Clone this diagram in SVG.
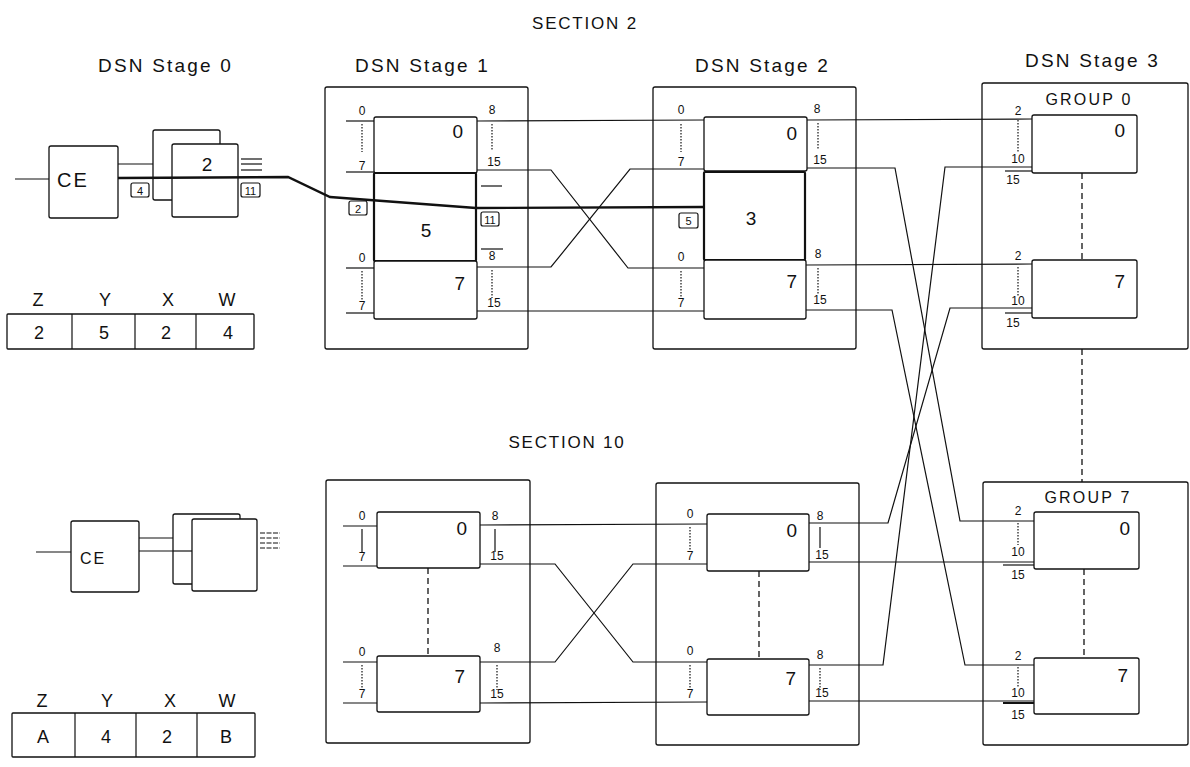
<svg xmlns="http://www.w3.org/2000/svg" width="1190" height="767" viewBox="0 0 1190 767">
<style>
.b{fill:#fff;stroke:#111;stroke-width:1.3}
.bt{fill:#fff;stroke:#111;stroke-width:2.2}
.fr{fill:none;stroke:#111;stroke-width:1.3}
.l{fill:none;stroke:#111;stroke-width:1.2}
.th{fill:none;stroke:#111;stroke-width:2.4}
.dot{fill:none;stroke:#111;stroke-width:1.2;stroke-dasharray:1.5 1.5}
.dash{fill:none;stroke:#111;stroke-width:1.3;stroke-dasharray:6 4}
.sd{fill:none;stroke:#111;stroke-width:1.1;stroke-dasharray:5 1.5}
text{font-family:"Liberation Sans",Arial,sans-serif;fill:#111}
.h{font-size:19px;letter-spacing:2.2px}
.sec{font-size:17px;letter-spacing:1.8px}
.g{font-size:16px;letter-spacing:2.2px}
.n{font-size:19px}
.p{font-size:12px;text-anchor:middle}
.s{font-size:11px;text-anchor:middle}
.t{font-size:18px;text-anchor:middle}
.e{text-anchor:end}
.m{text-anchor:middle}
</style>

<!-- headings -->
<g id="headings">
<text x="585" y="29" class="sec m">SECTION 2</text>
<text x="567" y="448" class="sec m">SECTION 10</text>
<text x="98" y="72" class="h">DSN Stage 0</text>
<text x="355" y="72" class="h">DSN Stage 1</text>
<text x="695" y="72" class="h">DSN Stage 2</text>
<text x="1025" y="67" class="h">DSN Stage 3</text>
</g>

<!-- stage frames -->
<g id="s2-stage1-frame"><rect class="fr" x="325" y="87" width="203" height="262" rx="2"/></g>
<g id="s2-stage2-frame"><rect class="fr" x="653" y="87" width="203" height="262" rx="2"/></g>
<g id="group0-frame"><rect class="fr" x="982" y="83" width="206" height="266" rx="2"/><text x="1089" y="105" class="g m">GROUP 0</text></g>
<g id="s10-stage1-frame"><rect class="fr" x="326" y="480" width="204" height="263" rx="2"/></g>
<g id="s10-stage2-frame"><rect class="fr" x="656" y="483" width="203" height="262" rx="2"/></g>
<g id="group7-frame"><rect class="fr" x="983" y="482" width="205" height="263" rx="2"/><text x="1088" y="503" class="g m">GROUP 7</text></g>

<!-- connectors -->
<g id="connectors">
<line class="l" x1="15" y1="179" x2="49" y2="179"/>
<line class="l" x1="118" y1="164" x2="153" y2="164"/>
<line class="l" x1="477" y1="121" x2="704" y2="120"/>
<polyline class="l" points="477,170 551,170 628,268 704,268"/>
<polyline class="l" points="477,267 551,267 630,169 704,169"/>
<line class="l" x1="477" y1="311" x2="704" y2="311"/>
<line class="l" x1="807" y1="120" x2="1032" y2="119"/>
<polyline class="l" points="807,168 895,168 960,521 1034,521"/>
<line class="l" x1="806" y1="265" x2="1032" y2="264"/>
<polyline class="l" points="806,310 892,310 965,665 1034,665"/>
<line class="l" x1="36" y1="552" x2="71" y2="552"/>
<line class="l" x1="139" y1="538" x2="173" y2="538"/>
<line class="l" x1="139" y1="551" x2="192" y2="551"/>
<line class="l" x1="480" y1="525" x2="707" y2="524"/>
<polyline class="l" points="480,564 555,564 633,662 707,662"/>
<polyline class="l" points="480,662 555,662 633,564 707,564"/>
<line class="l" x1="480" y1="703" x2="707" y2="702"/>
<polyline class="l" points="809,523 888,523 950,308 1032,308"/>
<line class="l" x1="809" y1="562" x2="1034" y2="562"/>
<polyline class="l" points="809,665 883,665 945,167 1032,167"/>
<line class="l" x1="809" y1="701" x2="1034" y2="701"/>
<line class="dash" x1="1082" y1="349" x2="1082" y2="482"/>
</g>

<!-- section 2 stage 0 -->
<g id="s2-ce"><rect class="b" x="49" y="146" width="69" height="72" rx="2"/><text x="57" y="187" style="font-size:20px;letter-spacing:2px">CE</text></g>
<g id="s2-stage0">
<rect class="b" x="153" y="130" width="67" height="70" rx="2"/>
<rect class="b" x="172" y="144" width="66" height="73" rx="2"/>
<text x="207" y="171" class="n m">2</text>
<line class="l" x1="241" y1="159" x2="262" y2="159"/>
<line class="l" x1="241" y1="164" x2="262" y2="164"/>
<line class="l" x1="241" y1="170" x2="262" y2="170"/>
<rect class="l" x="131" y="183" width="18" height="14" rx="2"/><text x="140" y="194.5" class="s">4</text>
<rect class="l" x="241" y="183" width="19" height="14" rx="2"/><text x="250.5" y="194.5" class="s">11</text>
</g>

<!-- section 2 stage 1 -->
<g id="s2-st1-sw0">
<rect class="b" x="374" y="117" width="103" height="56" rx="2"/>
<text x="463" y="138" class="n e">0</text>
<line class="l" x1="346" y1="121" x2="374" y2="121"/>
<line class="l" x1="346" y1="172" x2="374" y2="172"/>
<text x="362" y="115" class="p">0</text><line class="dot" x1="362" y1="124" x2="362" y2="152"/><text x="362" y="170" class="p">7</text>
<text x="492" y="114" class="p">8</text><line class="dot" x1="492" y1="124" x2="492" y2="150"/><text x="494" y="166" class="p">15</text>
</g>
<g id="s2-st1-sw5">
<rect class="bt" x="374" y="173" width="102" height="88" rx="1"/>
<text x="426" y="237" class="n m">5</text>
<rect class="l" x="349" y="201" width="18" height="14" rx="2"/><text x="358" y="212.5" class="s">2</text>
<rect class="l" x="481" y="212" width="18" height="14" rx="2"/><text x="490" y="223.5" class="s">11</text>
<line class="l" x1="481" y1="186" x2="502" y2="186"/>
</g>
<g id="s2-st1-sw7">
<rect class="b" x="374" y="261" width="103" height="58" rx="2"/>
<text x="465" y="290" class="n e">7</text>
<line class="l" x1="346" y1="268" x2="374" y2="268"/>
<line class="l" x1="346" y1="313" x2="374" y2="313"/>
<text x="362" y="262" class="p">0</text><line class="dot" x1="362" y1="271" x2="362" y2="300"/><text x="362" y="310" class="p">7</text>
<line class="l" x1="481" y1="249" x2="503" y2="249"/>
<text x="492" y="260" class="p">8</text><line class="dot" x1="492" y1="270" x2="492" y2="298"/><text x="494" y="307" class="p">15</text>
</g>

<!-- section 2 stage 2 -->
<g id="s2-st2-sw0">
<rect class="b" x="704" y="117" width="103" height="54" rx="2"/>
<text x="797" y="140" class="n e">0</text>
<text x="681" y="114" class="p">0</text><line class="dot" x1="681" y1="124" x2="681" y2="152"/><text x="681" y="166" class="p">7</text>
<text x="817" y="113" class="p">8</text><line class="dot" x1="818" y1="123" x2="818" y2="150"/><text x="820" y="164" class="p">15</text>
</g>
<g id="s2-st2-sw3">
<rect class="bt" x="704" y="172" width="101" height="88" rx="1"/>
<text x="751" y="225" class="n m">3</text>
<rect class="l" x="679" y="213" width="19" height="15" rx="2"/><text x="688.5" y="225" class="s">5</text>
</g>
<g id="s2-st2-sw7">
<rect class="b" x="704" y="260" width="102" height="59" rx="2"/>
<text x="797" y="288" class="n e">7</text>
<text x="681" y="261" class="p">0</text><line class="dot" x1="681" y1="271" x2="681" y2="298"/><text x="681" y="307" class="p">7</text>
<text x="818" y="258" class="p">8</text><line class="dot" x1="818" y1="268" x2="818" y2="295"/><text x="820" y="304" class="p">15</text>
</g>

<!-- group 0 -->
<g id="g0-sw0">
<rect class="b" x="1032" y="115" width="105" height="58" rx="2"/>
<text x="1125" y="137" class="n e">0</text>
<text x="1018" y="115" class="p">2</text><line class="dot" x1="1018" y1="120" x2="1018" y2="152"/><text x="1018" y="163" class="p">10</text>
<line class="l" x1="1005" y1="171" x2="1032" y2="171"/><text x="1013" y="184" class="p">15</text>
<line class="dash" x1="1082" y1="173" x2="1082" y2="260"/>
</g>
<g id="g0-sw7">
<rect class="b" x="1032" y="260" width="105" height="58" rx="2"/>
<text x="1125" y="288" class="n e">7</text>
<text x="1018" y="260" class="p">2</text><line class="dot" x1="1018" y1="267" x2="1018" y2="296"/><text x="1018" y="305" class="p">10</text>
<line class="l" x1="1005" y1="313" x2="1032" y2="313"/><text x="1013" y="327" class="p">15</text>
</g>

<!-- table section 2 -->
<g id="s2-table">
<text x="38" y="306" class="t">Z</text><text x="105" y="306" class="t">Y</text><text x="168" y="306" class="t">X</text><text x="227" y="306" class="t">W</text>
<rect class="b" x="7" y="314" width="247" height="35" rx="1"/>
<line class="l" x1="72" y1="314" x2="72" y2="349"/><line class="l" x1="135" y1="314" x2="135" y2="349"/><line class="l" x1="196" y1="314" x2="196" y2="349"/>
<text x="39" y="339" class="t">2</text><text x="104" y="339" class="t">5</text><text x="166" y="339" class="t">2</text><text x="228" y="339" class="t">4</text>
</g>

<!-- section 10 stage 0 -->
<g id="s10-ce"><rect class="b" x="71" y="521" width="68" height="71" rx="2"/><text x="80" y="564" style="font-size:16px;letter-spacing:2px">CE</text></g>
<g id="s10-stage0">
<rect class="b" x="173" y="514" width="67" height="70" rx="2"/>
<rect class="b" x="192" y="519" width="65" height="72" rx="2"/>
<line class="sd" x1="260" y1="533" x2="280" y2="533"/>
<line class="sd" x1="260" y1="538" x2="280" y2="538"/>
<line class="sd" x1="260" y1="543" x2="280" y2="543"/>
<line class="sd" x1="260" y1="548" x2="280" y2="548"/>
<line class="l" x1="173" y1="551" x2="192" y2="551"/>
</g>

<!-- section 10 stage 1 -->
<g id="s10-st1-sw0">
<rect class="b" x="377" y="512" width="103" height="56" rx="2"/>
<text x="467" y="535" class="n e">0</text>
<line class="l" x1="343" y1="526" x2="377" y2="526"/>
<line class="l" x1="343" y1="566" x2="377" y2="566"/>
<text x="362" y="520" class="p">0</text><line class="l" x1="362" y1="529" x2="362" y2="552"/><text x="362" y="561" class="p">7</text>
<text x="495" y="520" class="p">8</text><line class="l" x1="495" y1="529" x2="495" y2="552"/><text x="497" y="560" class="p">15</text>
<line class="dash" x1="428" y1="568" x2="428" y2="656"/>
</g>
<g id="s10-st1-sw7">
<rect class="b" x="377" y="656" width="103" height="56" rx="2"/>
<text x="465" y="683" class="n e">7</text>
<line class="l" x1="343" y1="662" x2="377" y2="662"/>
<line class="l" x1="343" y1="703" x2="377" y2="703"/>
<text x="362" y="656" class="p">0</text><line class="dot" x1="362" y1="665" x2="362" y2="690"/><text x="362" y="698" class="p">7</text>
<text x="497" y="652" class="p">8</text><line class="dot" x1="497" y1="665" x2="497" y2="690"/><text x="497" y="698" class="p">15</text>
</g>

<!-- section 10 stage 2 -->
<g id="s10-st2-sw0">
<rect class="b" x="707" y="514" width="102" height="57" rx="2"/>
<text x="797" y="537" class="n e">0</text>
<text x="690" y="518" class="p">0</text><line class="dot" x1="690" y1="527" x2="690" y2="550"/><text x="690" y="560" class="p">7</text>
<text x="820" y="520" class="p">8</text><line class="l" x1="820" y1="527" x2="820" y2="548"/><text x="822" y="559" class="p">15</text>
<line class="dash" x1="759" y1="571" x2="759" y2="659"/>
</g>
<g id="s10-st2-sw7">
<rect class="b" x="707" y="659" width="102" height="56" rx="2"/>
<text x="796" y="685" class="n e">7</text>
<text x="690" y="655" class="p">0</text><line class="dot" x1="690" y1="665" x2="690" y2="690"/><text x="690" y="698" class="p">7</text>
<text x="820" y="659" class="p">8</text><line class="dot" x1="820" y1="668" x2="820" y2="690"/><text x="822" y="697" class="p">15</text>
</g>

<!-- group 7 -->
<g id="g7-sw0">
<rect class="b" x="1034" y="512" width="105" height="57" rx="2"/>
<text x="1130" y="535" class="n e">0</text>
<text x="1018" y="515" class="p">2</text><line class="dot" x1="1018" y1="523" x2="1018" y2="545"/><text x="1018" y="556" class="p">10</text>
<line class="l" x1="1003" y1="565" x2="1034" y2="565"/><text x="1018" y="579" class="p">15</text>
<line class="dash" x1="1084" y1="569" x2="1084" y2="658"/>
</g>
<g id="g7-sw7">
<rect class="b" x="1034" y="658" width="105" height="56" rx="2"/>
<text x="1128" y="682" class="n e">7</text>
<text x="1018" y="660" class="p">2</text><line class="dot" x1="1018" y1="667" x2="1018" y2="688"/><text x="1018" y="697" class="p">10</text>
<line class="l" x1="1003" y1="703" x2="1034" y2="703" style="stroke-width:2"/><text x="1018" y="719" class="p">15</text>
</g>

<!-- table section 10 -->
<g id="s10-table">
<text x="42" y="707" class="t">Z</text><text x="107" y="707" class="t">Y</text><text x="170" y="707" class="t">X</text><text x="227" y="707" class="t">W</text>
<rect class="b" x="12" y="713" width="243" height="44" rx="1"/>
<line class="l" x1="75" y1="713" x2="75" y2="757"/><line class="l" x1="136" y1="713" x2="136" y2="757"/><line class="l" x1="197" y1="713" x2="197" y2="757"/>
<text x="43" y="743" class="t">A</text><text x="106" y="743" class="t">4</text><text x="167" y="743" class="t">2</text><text x="226" y="743" class="t">B</text>
</g>

<!-- highlighted path -->
<g id="path-connector">
<polyline class="th" points="118,178 288,177 330,197 476,208 704,207"/>
</g>
</svg>
